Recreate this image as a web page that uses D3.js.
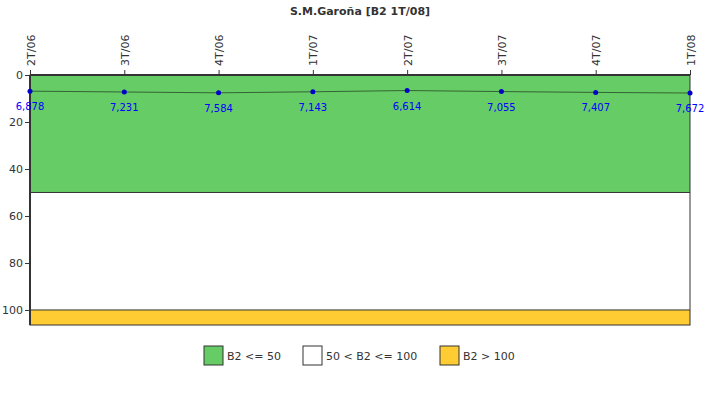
<!DOCTYPE html><html><head><meta charset="utf-8"><script src="https://cdn.jsdelivr.net/npm/d3@7"></script>
<style>body{margin:0;background:#fff}text{font-family:"DejaVu Sans",sans-serif}</style></head><body>
<svg id="c" width="720" height="400"></svg>
<script>
const categories=["2T/06","3T/06","4T/06","1T/07","2T/07","3T/07","4T/07","1T/08"];
const values=[6.878,7.231,7.584,7.143,6.614,7.055,7.407,7.672];
const valueLabels=["6,878","7,231","7,584","7,143","6,614","7,055","7,407","7,672"];
const yTicks=[0,20,40,60,80,100];
const bands=[{lo:0,hi:50,color:"#66cc66",label:"B2 <= 50"},{lo:50,hi:100,color:"#ffffff",label:"50 < B2 <= 100"},{lo:100,hi:106.4,color:"#ffcc33",label:"B2 > 100"}];
const svg=d3.select("#c");
const L=30,R=690,T=75,B=325;
const x=d3.scalePoint().domain(categories).range([L,R]);
const y=d3.scaleLinear().domain([0,106.4]).range([T,B]);
svg.append("text").attr("x",360).attr("y",15).attr("text-anchor","middle").attr("font-size",11).attr("font-weight","bold").attr("fill","#333").text("S.M.Garoña [B2 1T/08]");
svg.selectAll("rect.b").data(bands).join("rect").attr("x",L).attr("width",R-L).attr("y",d=>y(d.lo)).attr("height",d=>y(d.hi)-y(d.lo)).attr("fill",d=>d.color);
svg.selectAll("line.bl").data([50,100]).join("line").attr("x1",L).attr("x2",R).attr("y1",d=>y(d)).attr("y2",d=>y(d)).attr("stroke","#333");
svg.append("rect").attr("x",L).attr("y",T).attr("width",R-L).attr("height",B-T).attr("fill","none").attr("stroke","#333").attr("stroke-width",1);
svg.append("line").attr("x1",L).attr("x2",L).attr("y1",T).attr("y2",B).attr("stroke","#333").attr("stroke-width",2);
svg.append("line").attr("x1",L).attr("x2",R).attr("y1",T).attr("y2",T).attr("stroke","#333").attr("stroke-width",2);
const ya=svg.append("g").attr("transform",`translate(${L},0)`).call(d3.axisLeft(y).tickValues(yTicks).tickSize(5).tickPadding(2));
ya.select(".domain").remove();ya.selectAll("text").attr("font-size",11).attr("fill","#333");ya.selectAll("line").attr("stroke","#333");
const xa=svg.append("g").attr("transform",`translate(0,${T})`).call(d3.axisTop(x).tickSize(5).tickPadding(2));
xa.select(".domain").remove();xa.selectAll("line").attr("stroke","#333");
xa.selectAll("text").attr("font-size",11).attr("fill","#333").attr("text-anchor","start").attr("transform","rotate(-90)").attr("x",9).attr("y",4).attr("dy",0);
svg.append("path").datum(values).attr("fill","none").attr("stroke","#336633").attr("stroke-width",1).attr("d",d3.line().x((d,i)=>x(categories[i])).y(d=>y(d)));
svg.selectAll("circle.p").data(values).join("circle").attr("cx",(d,i)=>x(categories[i])).attr("cy",d=>y(d)).attr("r",2.5).attr("fill","#0000cc");
svg.selectAll("text.v").data(values).join("text").attr("x",(d,i)=>x(categories[i])).attr("y",d=>y(d)+19).attr("text-anchor","middle").attr("font-size",10).attr("fill","#0000ff").attr("font-family","'DejaVu Sans Mono',monospace").text((d,i)=>valueLabels[i]);
const lg=svg.append("g");
const pos=[204,303,440];
bands.forEach((b,i)=>{lg.append("rect").attr("x",pos[i]).attr("y",346).attr("width",19).attr("height",19).attr("fill",b.color).attr("stroke","#333");
lg.append("text").attr("x",pos[i]+23).attr("y",360).attr("font-size",11).attr("fill","#333").text(b.label);});
</script></body></html>
